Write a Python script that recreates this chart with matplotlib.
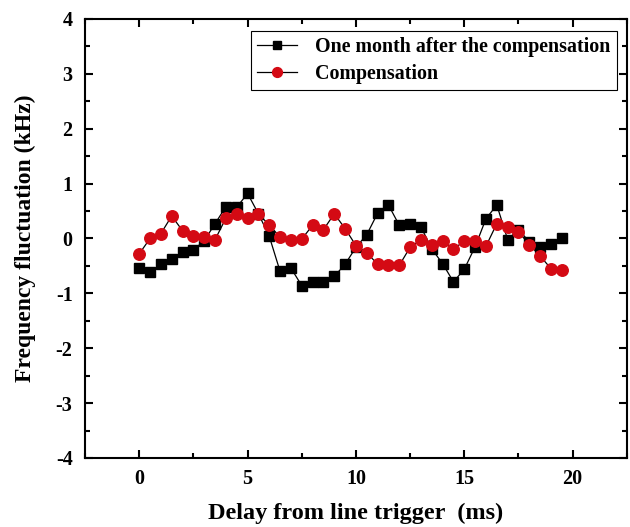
import numpy as np
import matplotlib
matplotlib.use("Agg")
import matplotlib.pyplot as plt
from matplotlib.ticker import MultipleLocator

delay = np.arange(0, 20, 0.5)
one_month = [-0.53, -0.62, -0.47, -0.38, -0.24, -0.21, -0.04, 0.27, 0.58, 0.57,
             0.82, 0.45, 0.04, -0.60, -0.54, -0.86, -0.80, -0.80, -0.69, -0.47,
             -0.16, 0.07, 0.46, 0.61, 0.24, 0.26, 0.21, -0.19, -0.46, -0.79,
             -0.56, -0.15, 0.36, 0.61, -0.02, 0.16, -0.06, -0.15, -0.10, 0.00]
compensation = [-0.28, 0.00, 0.09, 0.41, 0.14, 0.04, 0.02, -0.02, 0.37, 0.45,
                0.38, 0.44, 0.25, 0.02, -0.02, -0.01, 0.24, 0.16, 0.45, 0.18,
                -0.13, -0.26, -0.47, -0.49, -0.49, -0.16, -0.02, -0.11, -0.04, -0.19,
                -0.05, -0.05, -0.14, 0.27, 0.21, 0.12, -0.11, -0.32, -0.55, -0.57]
labels = ["One month after the compensation", "Compensation"]

plt.rcParams['font.family'] = ['Liberation Serif', 'DejaVu Serif']
plt.rcParams['font.weight'] = 'bold'
plt.rcParams['axes.unicode_minus'] = False

fig = plt.figure(figsize=(6.3, 5.27), dpi=100)
ax = fig.add_axes([0.135, 0.131, 0.860, 0.833])

ax.plot(delay, one_month, color='black', lw=0.9, marker='s', ms=7,
        mfc='black', mec='black', label=labels[0])
ax.plot(delay, compensation, color='black', lw=0.9, marker='o', ms=8.3,
        mfc='#d40a14', mec='#d40a14', label=labels[1])

ax.set_xlim(-2.5, 22.5)
ax.set_ylim(-4, 4)
ax.xaxis.set_major_locator(MultipleLocator(5))
ax.xaxis.set_minor_locator(MultipleLocator(2.5))
ax.yaxis.set_major_locator(MultipleLocator(1))
ax.yaxis.set_minor_locator(MultipleLocator(0.5))
ax.tick_params(which='both', direction='in', top=True, right=True, width=1.5)
ax.tick_params(which='major', length=6, labelsize=14.5)
ax.tick_params(axis='x', which='major', pad=8)
ax.tick_params(axis='y', which='major', pad=9)
ax.tick_params(which='minor', length=3.5)
for lab in ax.get_xticklabels() + ax.get_yticklabels():
    lab.set_fontweight('bold')
for s in ax.spines.values():
    s.set_linewidth(1.5)

ax.set_xlabel("Delay from line trigger  (ms)", fontsize=17.5, fontweight='bold', labelpad=10)
ax.set_ylabel("Frequency fluctuation (kHz)", fontsize=17, fontweight='bold', labelpad=14)

leg = ax.legend(loc='upper right', bbox_to_anchor=(0.9815, 0.9727), fontsize=14.4,
                frameon=True, fancybox=False, edgecolor='black', framealpha=1,
                handlelength=2.0, borderpad=0.3, labelspacing=0.35,
                handletextpad=0.9, borderaxespad=0, markerscale=0.85)
leg.get_frame().set_linewidth(0.8)
for t in leg.get_texts():
    t.set_fontweight('bold')

fig.savefig("out.png", dpi=100)
